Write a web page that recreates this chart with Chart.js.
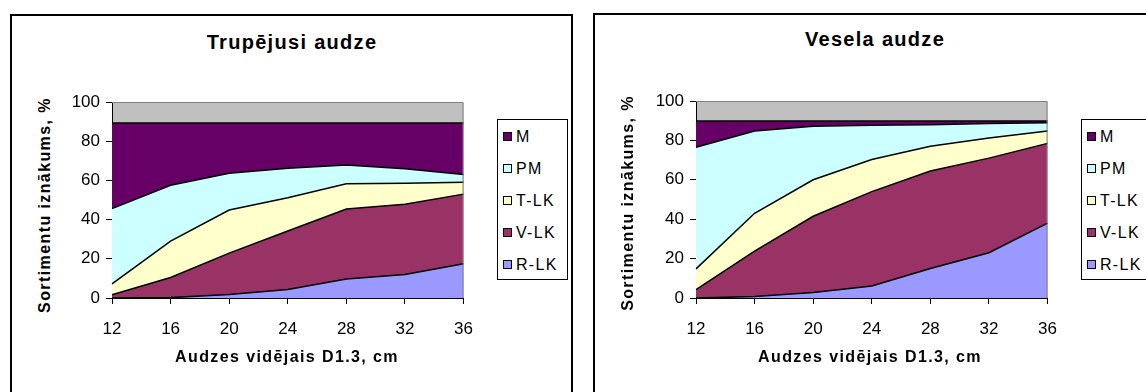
<!DOCTYPE html>
<html>
  <head>
    <meta charset="utf-8">
    <title>Sortimentu iznākums</title>
    <script src="https://cdn.jsdelivr.net/npm/chart.js"></script>
    <style>
      body {
        margin: 0;
        width: 1146px;
        height: 392px;
        overflow: hidden;
        position: relative;
        background: #fff;
        font-family: "Liberation Sans", Arial, sans-serif;
        color: #000;
      }
      .box {
        position: absolute;
        box-sizing: border-box;
        border: 2px solid #000;
      }
      .txt {
        position: absolute;
        text-align: center;
        white-space: nowrap;
        font-weight: bold;
      }
      .legend {
        position: absolute;
        box-sizing: border-box;
        border: 1px solid #000;
        background: #fff;
        font-size: 16px;
      }
      .legend div {
        position: absolute;
        white-space: nowrap;
        line-height: 16px;
        letter-spacing: 1.3px;
      }
      .legend span {
        display: inline-block;
        width: 7px;
        height: 7px;
        border: 1px solid #000;
        margin-right: 4px;
        vertical-align: 1px;
      }
      canvas {
        position: absolute;
      }
    </style>
  </head>

  <body>
    <div class="box" style="left: 10px; top: 14px; width: 563px; height: 400px"></div>
    <div class="box" style="left: 593px; top: 13px; width: 600px; height: 400px"></div>

    <canvas id="chartTrup" width="428" height="263" style="left: 60px; top: 87px"></canvas>
    <canvas id="chartVes" width="432" height="264" style="left: 640px; top: 86px"></canvas>

    <script>
      // x axis: vidējais caurmērs
      var diametri = ["12", "16", "20", "24", "28", "32", "36"];
      var yTicks = [0, 20, 40, 60, 80, 100];

      // series, bottom to top
      var sortimenti = ["R-LK", "V-LK", "T-LK", "PM", "M"];
      var krasas = ["#9999FF", "#993366", "#FFFFCC", "#CCFFFF", "#660066"];

      // Trupējusi audze
      var trupRLK = [0, 0.2, 1.8, 4.3, 9.7, 12, 17.5];
      var trupVLK = [1.7, 10.3, 21.1, 29.9, 35.7, 35.8, 35.5];
      var trupTLK = [5.5, 18.5, 22, 17, 12.9, 10.7, 6];
      var trupPM = [38.4, 28.5, 18.8, 15, 9.5, 7.4, 4];
      var trupM = [43.7, 31.8, 25.6, 23.1, 21.5, 23.4, 26.3];

      // Vesela audze
      var vesRLK = [0, 0.7, 2.8, 6.1, 15, 23, 38];
      var vesVLK = [4.3, 23.1, 38.7, 47.9, 49.5, 48, 40.5];
      var vesTLK = [10.5, 19.2, 18.5, 16.3, 12.5, 10.2, 6.3];
      var vesPM = [61.7, 41.8, 27.2, 17.4, 11, 7.4, 4.2];
      var vesM = [13.3, 5, 2.6, 2.1, 1.8, 1.2, 0.8];

      var fontFam = "'Liberation Sans', Arial, sans-serif";

      // grey plot area + grey frame on top and right
      var plotBg = {
        id: "plotBg",
        beforeDraw: function (chart) {
          var a = chart.chartArea;
          var ctx = chart.ctx;
          ctx.save();
          ctx.fillStyle = "#C0C0C0";
          ctx.fillRect(a.left, a.top, a.right - a.left, a.bottom - a.top);
          ctx.restore();
        },
        afterDraw: function (chart) {
          var a = chart.chartArea;
          var ctx = chart.ctx;
          ctx.save();
          ctx.strokeStyle = "#808080";
          ctx.lineWidth = 1;
          ctx.beginPath();
          ctx.moveTo(a.left, a.top + 0.5);
          ctx.lineTo(a.right - 0.5, a.top + 0.5);
          ctx.lineTo(a.right - 0.5, a.bottom);
          ctx.stroke();
          ctx.restore();
        },
      };

      function makeChart(id, values, lay) {
        var datasets = sortimenti.map(function (name, i) {
          return {
            label: name,
            data: values[i],
            backgroundColor: krasas[i],
            borderColor: "#000",
            borderWidth: 1.5,
            pointRadius: 0,
            tension: 0,
            fill: i === 0 ? "origin" : "-1",
          };
        });

        return new Chart(document.getElementById(id), {
          type: "line",
          data: { labels: diametri, datasets: datasets },
          options: {
            responsive: false,
            animation: false,
            layout: { padding: 0 },
            plugins: { legend: { display: false }, tooltip: { enabled: false } },
            scales: {
              x: {
                offset: false,
                grid: { drawOnChartArea: false, tickLength: 6, color: "#000" },
                border: { color: "#000", width: 1 },
                ticks: { color: "#000", font: { family: fontFam, size: 17 }, padding: 15, maxRotation: 0, autoSkip: false },
                afterFit: function (s) {
                  s.height = lay.xh;
                },
              },
              y: {
                stacked: true,
                min: 0,
                max: 100,
                afterBuildTicks: function (s) {
                  s.ticks = yTicks.map(function (v) {
                    return { value: v };
                  });
                },
                grid: { drawOnChartArea: false, tickLength: 6, color: "#000" },
                border: { color: "#000", width: 1 },
                ticks: { color: "#000", font: { family: fontFam, size: 17, lineHeight: "18px" }, padding: 6 },
                afterFit: function (s) {
                  s.width = lay.yw;
                },
              },
            },
          },
          plugins: [plotBg],
        });
      }

      makeChart("chartTrup", [trupRLK, trupVLK, trupTLK, trupPM, trupM], { yw: 52, xh: 52 });
      makeChart("chartVes", [vesRLK, vesVLK, vesTLK, vesPM, vesM], { yw: 56, xh: 52 });

      // titles and axis titles
      function addText(str, cx, cy, size, rotate) {
        var d = document.createElement("div");
        d.className = "txt";
        d.textContent = str;
        d.style.fontSize = size + "px";
        d.style.lineHeight = size + "px";
        d.style.letterSpacing = size > 18 ? "1.3px" : "1.4px";
        d.style.width = "400px";
        d.style.height = size + "px";
        d.style.left = cx - 200 + "px";
        d.style.top = cy - size / 2 + "px";
        if (rotate) d.style.transform = "rotate(-90deg)";
        document.body.appendChild(d);
      }

      addText("Trupējusi audze", 292, 42, 20);
      addText("Vesela audze", 875, 39, 20);
      addText("Audzes vidējais D1.3, cm", 287, 357, 16);
      addText("Audzes vidējais D1.3, cm", 870, 357, 16);
      addText("Sortimentu iznākums, %", 45, 205, 16, true);
      addText("Sortimentu iznākums, %", 628, 203, 16, true);

      // legends, M on top
      function addLegend(left, top, width) {
        var box = document.createElement("div");
        box.className = "legend";
        box.style.left = left + "px";
        box.style.top = top + "px";
        box.style.width = width + "px";
        box.style.height = "161px";
        for (var k = sortimenti.length - 1; k >= 0; k--) {
          var row = document.createElement("div");
          var n = sortimenti.length - 1 - k;
          row.style.left = "5px";
          row.style.top = 9 + n * 32 + "px";
          var sw = document.createElement("span");
          sw.style.background = krasas[k];
          row.appendChild(sw);
          row.appendChild(document.createTextNode(sortimenti[k]));
          box.appendChild(row);
        }
        document.body.appendChild(box);
      }

      addLegend(497, 119, 71);
      addLegend(1081, 119, 90);
    </script>
  </body>
</html>
